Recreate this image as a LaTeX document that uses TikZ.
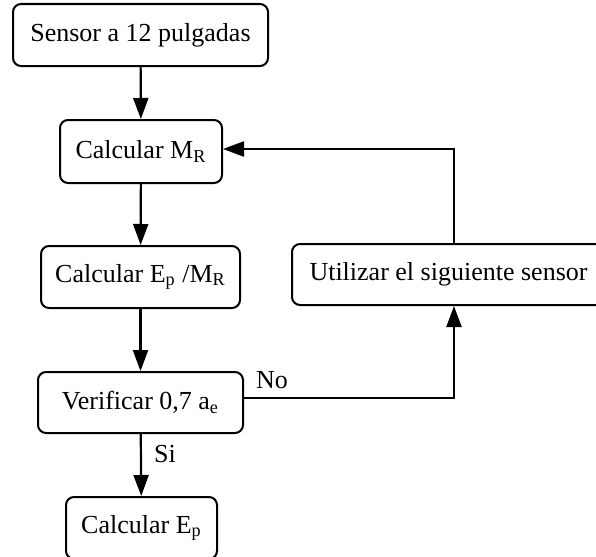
\documentclass[tikz,border=0pt]{standalone}
\usepackage{fontspec}
\setmainfont{Liberation Serif}
\usetikzlibrary{arrows.meta}

\begin{document}
\begin{tikzpicture}[x=0.5pt, y=-0.5pt,
		caja/.style={draw, line width=1pt, rounded corners=4pt, align=center, inner sep=0pt, font=\fontsize{13}{15}\selectfont},
		flecha/.style={line width=1.1pt, -{Triangle[length=10.5pt, width=7.5pt]}},
		etiqueta/.style={font=\fontsize{13}{15}\selectfont}]
		%%%%% START %%%%%
		
		\useasboundingbox (0, 0) rectangle (596, 557);
		
		\node[caja, minimum width=127.5pt, minimum height=31pt] (sensor) at (140.5, 35) {Sensor a 12 pulgadas};
		\node[caja, minimum width=81pt, minimum height=31.5pt] (calcMR) at (141, 151.5) {Calcular M\textsubscript{R}};
		\node[caja, minimum width=99.5pt, minimum height=31pt] (calcEpMR) at (140.5, 277) {Calcular E\textsubscript{p} /M\textsubscript{R}};
		\node[caja, minimum width=102.5pt, minimum height=30.5pt] (verif) at (140.5, 402.5) {Verificar 0,7 a\textsubscript{e}};
		\node[caja, minimum width=75.5pt, minimum height=31pt] (calcEp) at (141.5, 528) {Calcular E\textsubscript{p}};
		\node[caja, minimum width=156.5pt, minimum height=30.5pt] (util) at (448.5, 274.5) {Utilizar el siguiente sensor};
		
		\coordinate (no) at (454, 398);
		\coordinate (regreso) at (454, 149);
		
		\draw[flecha] (sensor) -- (calcMR);
		\draw[flecha] (calcMR) -- (calcEpMR);
		\draw[flecha] (calcEpMR) -- (verif);
		\draw[flecha] (verif) -- (calcEp);
		\draw[flecha] (verif.east |- no) -- (no) -- (util.south -| no);
		\draw[flecha] (util.north -| regreso) -- (regreso) -- (calcMR.east |- regreso);
		
		\node[etiqueta] (lblNo) at (272, 380) {No};
		\node[etiqueta] (lblSi) at (165, 454) {Si};
		
		%%%%% END %%%%%
\end{tikzpicture}
\end{document}
